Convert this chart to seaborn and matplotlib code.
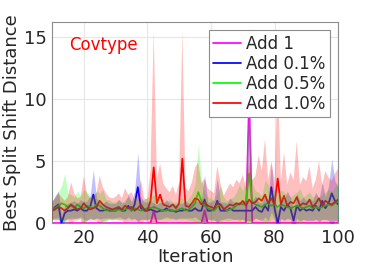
import matplotlib
matplotlib.use("Agg")
import matplotlib.pyplot as plt
import numpy as np
import pandas as pd
import seaborn as sns

iterations = list(range(10, 101))

add1_mean = [0.0] * 91
add1_mean[42 - 10] = 1.0
add1_mean[58 - 10] = 1.0
add1_mean[72 - 10] = 10.0
add1_std = [0.0] * 91
add1_std[42 - 10] = 1.0
add1_std[58 - 10] = 1.0
add1_std[72 - 10] = 6.0

add01_mean = [
    1.0, 1.3, 1.5, 0.0, 0.8, 1.0, 1.0, 1.1, 1.0, 1.2,   # 10-19
    1.0, 1.0, 1.3, 2.3, 1.2, 1.0, 1.0, 1.1, 1.0, 1.0,   # 20-29
    1.0, 1.2, 1.0, 1.0, 1.4, 1.0, 1.5, 2.9, 1.2, 1.0,   # 30-39
    1.0, 1.1, 1.0, 0.9, 1.0, 1.0, 1.2, 1.0, 1.0, 0.9,   # 40-49
    1.0, 1.0, 1.1, 1.0, 1.0, 1.2, 1.0, 1.0, 1.9, 1.0,   # 50-59
    1.0, 1.1, 1.8, 1.0, 1.0, 1.0, 1.2, 1.0, 1.0, 1.0,   # 60-69
    1.0, 1.0, 1.0, 1.0, 1.3, 1.0, 0.9, 1.4, 1.0, 2.9,   # 70-79
    1.2, 0.0, 1.3, 1.0, 1.5, 1.2, 0.2, 1.4, 1.0, 1.2,   # 80-89
    1.0, 1.1, 1.0, 1.4, 1.0, 1.8, 1.2, 1.6, 2.4, 1.8,   # 90-99
    1.5,
]
add01_std = [
    0.7, 0.9, 1.1, 0.7, 0.6, 0.6, 0.7, 0.7, 0.6, 0.7,
    0.7, 0.8, 0.9, 2.0, 0.8, 0.7, 0.6, 0.7, 0.6, 0.6,
    0.6, 0.7, 0.6, 0.7, 0.9, 0.7, 1.1, 2.8, 0.9, 0.7,
    0.7, 0.7, 0.6, 0.6, 0.7, 0.6, 0.7, 0.6, 0.6, 0.6,
    0.6, 0.6, 0.7, 0.6, 0.6, 0.7, 0.7, 0.8, 2.0, 0.7,
    0.7, 0.8, 1.8, 0.7, 0.7, 0.6, 0.8, 0.7, 0.7, 0.7,
    0.7, 0.8, 0.8, 0.8, 0.9, 0.7, 0.7, 0.9, 0.8, 2.0,
    0.9, 1.0, 0.9, 0.8, 1.1, 0.9, 1.0, 1.0, 0.8, 0.9,
    0.8, 0.9, 0.8, 1.1, 0.9, 1.5, 0.9, 1.4, 2.8, 1.6,
    1.4,
]

add05_mean = [
    1.0, 1.2, 1.4, 1.6, 1.5, 1.3, 1.4, 1.2, 1.5, 1.3,
    1.2, 1.4, 1.3, 1.2, 1.5, 1.4, 1.2, 1.0, 1.1, 1.0,
    1.0, 1.1, 1.0, 1.1, 1.2, 1.0, 1.2, 1.1, 1.0, 1.1,
    1.2, 1.2, 1.3, 1.2, 1.1, 1.0, 1.0, 1.1, 1.0, 1.0,
    1.1, 1.2, 1.0, 1.1, 1.3, 1.6, 2.5, 1.8, 1.4, 1.2,
    1.1, 1.0, 1.3, 1.5, 1.2, 1.0, 1.1, 1.2, 1.4, 1.6,
    1.5, 1.8, 4.0, 1.7, 1.5, 1.4, 1.3, 1.5, 1.6, 1.4,
    1.5, 1.3, 1.5, 1.4, 1.3, 1.2, 1.3, 1.4, 1.3, 1.2,
    1.3, 1.4, 1.2, 1.3, 1.2, 1.3, 1.4, 1.5, 1.4, 1.6,
    1.8,
]
add05_std = [
    0.7, 0.9, 1.1, 1.4, 2.5, 1.1, 0.9, 0.9, 1.1, 0.9,
    1.5, 1.1, 0.9, 0.9, 1.1, 1.0, 1.5, 0.9, 0.8, 0.7,
    0.7, 0.8, 0.7, 0.8, 0.9, 0.7, 0.9, 0.8, 0.7, 0.8,
    0.9, 0.9, 1.0, 0.9, 0.8, 0.7, 0.7, 0.8, 0.7, 0.7,
    0.8, 0.9, 0.7, 0.9, 1.1, 1.5, 3.8, 1.8, 1.1, 0.9,
    0.9, 0.8, 1.1, 1.5, 0.9, 0.8, 0.9, 0.9, 1.1, 1.5,
    1.1, 2.0, 6.0, 1.5, 1.1, 1.1, 0.9, 2.0, 1.5, 1.1,
    1.2, 1.0, 1.2, 1.1, 1.0, 0.9, 1.0, 1.1, 1.5, 0.9,
    1.0, 1.1, 0.9, 1.0, 0.9, 1.0, 1.1, 1.2, 1.1, 1.3,
    1.5,
]

add10_mean = [
    1.0, 1.1, 1.3, 1.2, 1.0, 1.2, 1.5, 1.3, 1.1, 1.2,
    1.6, 1.3, 1.1, 1.2, 1.3, 1.8, 1.5, 1.3, 1.2, 1.1,
    1.2, 1.3, 1.1, 1.4, 1.2, 1.3, 1.0, 1.2, 1.5, 1.1,
    1.0, 1.8, 4.5, 1.6, 2.3, 1.5, 1.4, 1.3, 1.5, 1.2,
    1.6, 5.2, 1.4, 1.3, 1.6, 2.0, 1.9, 1.5, 1.7, 1.4,
    1.3, 1.2, 1.6, 1.5, 1.1, 1.3, 1.5, 1.4, 1.6, 1.5,
    1.8, 1.4, 1.9, 1.6, 1.7, 2.0, 1.8, 2.3, 1.6, 2.0,
    1.5, 3.6, 1.5, 2.2, 1.4, 1.7, 1.6, 2.1, 1.4, 1.6,
    1.5, 1.9, 1.3, 1.6, 2.0, 1.4, 1.8, 1.6, 1.5, 1.7,
    1.9,
]
add10_std = [
    0.7, 0.9, 1.1, 0.9, 0.8, 0.9, 1.8, 1.1, 0.9, 0.9,
    2.2, 1.1, 0.9, 1.0, 1.1, 2.0, 1.4, 1.1, 0.9, 0.9,
    0.9, 1.1, 0.9, 1.4, 1.1, 1.2, 0.9, 1.1, 2.0, 0.9,
    0.9, 2.5, 11.0, 2.0, 2.5, 1.7, 1.4, 1.2, 1.5, 1.1,
    1.7, 10.3, 1.4, 1.3, 1.7, 2.5, 3.0, 1.7, 1.9, 1.4,
    1.3, 1.2, 3.0, 1.7, 1.1, 1.4, 1.7, 1.5, 1.9, 1.7,
    2.1, 1.5, 3.0, 1.9, 2.1, 3.5, 2.4, 4.5, 1.9, 3.0,
    1.9, 8.0, 1.9, 3.5, 1.7, 2.4, 1.9, 4.5, 1.7, 2.1,
    1.9, 2.7, 1.5, 1.9, 3.0, 1.7, 2.4, 2.1, 1.9, 2.3,
    2.5,
]

series_names = ["Add 1", "Add 0.1%", "Add 0.5%", "Add 1.0%"]
series_colors = ["#ff00ff", "#0000ff", "#00ff00", "#ff0000"]
means = [add1_mean, add01_mean, add05_mean, add10_mean]
stds = [add1_std, add01_std, add05_std, add10_std]

sns.set_style("white")
plt.rcParams["font.family"] = ["DejaVu Sans"]

fig = plt.figure(figsize=(3.74, 2.72), dpi=100)
ax = fig.add_axes([0.139, 0.18, 0.765, 0.739])

df = pd.DataFrame({
    "Iteration": iterations * 4,
    "value": np.concatenate(means),
    "series": np.repeat(series_names, len(iterations)),
})
sns.lineplot(
    data=df, x="Iteration", y="value", hue="series",
    palette=dict(zip(series_names, series_colors)),
    hue_order=series_names, lw=1.25, ax=ax, zorder=2,
)

# shaded bands drawn over the lines (MATLAB-like fill)
x = np.array(iterations)
for m, s, c in zip(means, stds, series_colors):
    m = np.array(m)
    s = np.array(s)
    ax.fill_between(x, m - s, m + s, color=c, alpha=0.25, lw=0, zorder=3)

ax.set_xlim(10, 100)
ax.set_ylim(0, 16.25)
ax.set_xticks([20, 40, 60, 80, 100])
ax.set_yticks([0, 5, 10, 15])
ax.grid(True, color="#e6e6e6", lw=0.8)
ax.set_axisbelow(True)
for sp in ax.spines.values():
    sp.set_color("#8c8c8c")
    sp.set_linewidth(0.8)
ax.tick_params(direction="in", length=3, color="#8c8c8c", labelsize=13,
               labelcolor="#262626", pad=4)
ax.set_xlabel("Iteration", fontsize=13, color="#262626", labelpad=1)
ax.set_ylabel("Best Split Shift Distance", fontsize=13, color="#262626", labelpad=2)

ax.text(0.06, 0.86, "Covtype", color="red", fontsize=12, transform=ax.transAxes)

leg = ax.legend(loc="upper right", fontsize=12, handlelength=1.7,
                handletextpad=0.3, borderpad=0.25, labelspacing=0.12,
                borderaxespad=0.5, frameon=True, fancybox=False)
leg.get_frame().set_edgecolor("#8c8c8c")
leg.get_frame().set_linewidth(0.8)
leg.get_frame().set_alpha(1)
leg.set_zorder(5)

fig.savefig("out.png", dpi=100)
